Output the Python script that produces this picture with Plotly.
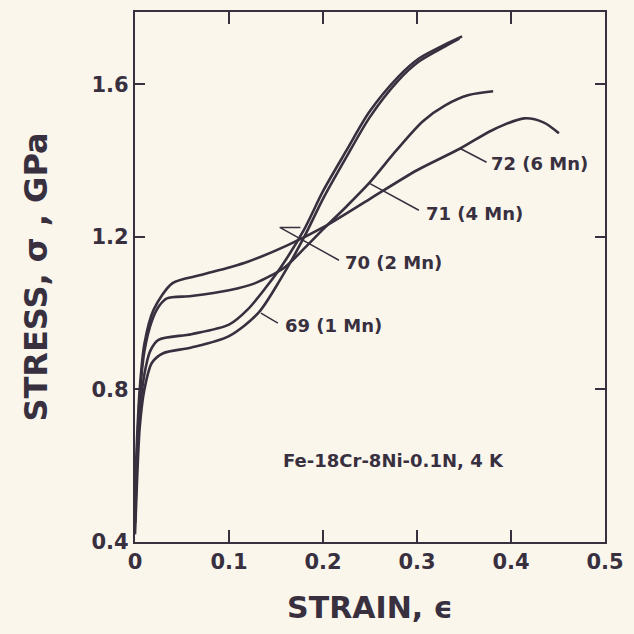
import plotly.graph_objects as go

# ---- data (strain, stress GPa) ----
x69 = [0.0, 0.002, 0.005, 0.01, 0.018, 0.03, 0.06, 0.1, 0.131, 0.155, 0.18, 0.2, 0.225, 0.25, 0.28, 0.302, 0.33, 0.345]
y69 = [0.42, 0.55, 0.70, 0.80, 0.87, 0.895, 0.91, 0.94, 1.00, 1.09, 1.20, 1.30, 1.41, 1.515, 1.61, 1.66, 1.70, 1.72]

x70 = [0.0, 0.002, 0.005, 0.01, 0.016, 0.025, 0.06, 0.1, 0.12, 0.14, 0.155, 0.18, 0.2, 0.225, 0.249, 0.28, 0.302, 0.33, 0.348]
y70 = [0.45, 0.60, 0.74, 0.84, 0.90, 0.93, 0.945, 0.97, 1.01, 1.07, 1.12, 1.22, 1.32, 1.427, 1.527, 1.62, 1.668, 1.705, 1.726]

x71 = [0.0, 0.002, 0.005, 0.01, 0.018, 0.026, 0.034, 0.06, 0.1, 0.128, 0.159, 0.18, 0.2, 0.225, 0.249, 0.278, 0.306, 0.33, 0.355, 0.381]
y71 = [0.45, 0.62, 0.78, 0.90, 0.98, 1.02, 1.039, 1.045, 1.06, 1.079, 1.12, 1.17, 1.22, 1.28, 1.341, 1.427, 1.503, 1.545, 1.572, 1.582]

x72 = [0.0, 0.002, 0.005, 0.01, 0.02, 0.04, 0.07, 0.1, 0.12, 0.162, 0.2, 0.25, 0.3, 0.346, 0.38, 0.414, 0.435, 0.451]
y72 = [0.50, 0.66, 0.80, 0.92, 1.01, 1.079, 1.10, 1.12, 1.135, 1.178, 1.225, 1.30, 1.375, 1.432, 1.48, 1.511, 1.50, 1.472]

series_x = [x69, x70, x71, x72]
series_y = [y69, y70, y71, y72]

label_text = ["69 (1 Mn)", "70 (2 Mn)", "71 (4 Mn)", "72 (6 Mn)"]
label_x = [0.157, 0.221, 0.307, 0.377]
label_y = [0.969, 1.134, 1.262, 1.393]
# leader polylines (data coords)
leader_x = [[0.134, 0.152], [0.217, 0.154, 0.176], [0.249, 0.302], [0.346, 0.374]]
leader_y = [[1.0, 0.974], [1.139, 1.225, 1.225], [1.341, 1.270], [1.432, 1.396]]

note_text = "Fe-18Cr-8Ni-0.1N, 4 K"
note_x, note_y = 0.155, 0.615

x_ticks = [0, 0.1, 0.2, 0.3, 0.4, 0.5]
x_ticklabels = ["0", "0.1", "0.2", "0.3", "0.4", "0.5"]
y_ticks = [0.4, 0.8, 1.2, 1.6]
y_ticklabels = ["0.4", "0.8", "1.2", "1.6"]

INK = "#38303f"
BG = "#fbf6ec"
FONT = "DejaVu Sans"

fig = go.Figure()
for sx, sy in zip(series_x, series_y):
    fig.add_trace(go.Scatter(x=sx, y=sy, mode="lines",
                             line=dict(color=INK, width=2.6, shape="spline", smoothing=0.8),
                             showlegend=False, hoverinfo="skip"))
for lx, ly in zip(leader_x, leader_y):
    fig.add_trace(go.Scatter(x=lx, y=ly, mode="lines",
                             line=dict(color=INK, width=1.5),
                             showlegend=False, hoverinfo="skip"))

annotations = []
for t, ax_, ay_ in zip(label_text, label_x, label_y):
    annotations.append(dict(x=ax_, y=ay_, text=t, showarrow=False, xanchor="left", yanchor="middle",
                            font=dict(family=FONT, size=18, color=INK, weight="bold")))
annotations.append(dict(x=note_x, y=note_y, text=note_text, showarrow=False, xanchor="left", yanchor="middle",
                        font=dict(family=FONT, size=18, color=INK, weight="bold")))

fig.update_layout(
    width=634, height=634,
    margin=dict(l=135, r=22, t=10, b=92),
    paper_bgcolor=BG, plot_bgcolor=BG,
    annotations=annotations,
    font=dict(family=FONT, color=INK, weight="bold"),
)
fig.update_xaxes(range=[0, 0.5], tickvals=x_ticks, ticktext=x_ticklabels,
                 ticks="inside", ticklen=12, tickwidth=1.8, tickcolor=INK,
                 showline=True, linecolor=INK, linewidth=2.2, mirror="ticks",
                 showgrid=False, zeroline=False,
                 tickfont=dict(family=FONT, size=21, color=INK, weight="bold"),
                 title=dict(text="STRAIN, ϵ", standoff=24,
                            font=dict(family=FONT, size=30, color=INK, weight="bold")))
fig.update_yaxes(range=[0.4, 1.79], tickvals=y_ticks, ticktext=y_ticklabels,
                 ticks="inside", ticklen=10, tickwidth=1.8, tickcolor=INK,
                 showline=True, linecolor=INK, linewidth=2.2, mirror="ticks",
                 showgrid=False, zeroline=False,
                 tickfont=dict(family=FONT, size=21, color=INK, weight="bold"),
                 title=dict(text="STRESS, σ , GPa", standoff=34,
                            font=dict(family=FONT, size=32, color=INK, weight="bold")))

fig.write_html("out.html")
